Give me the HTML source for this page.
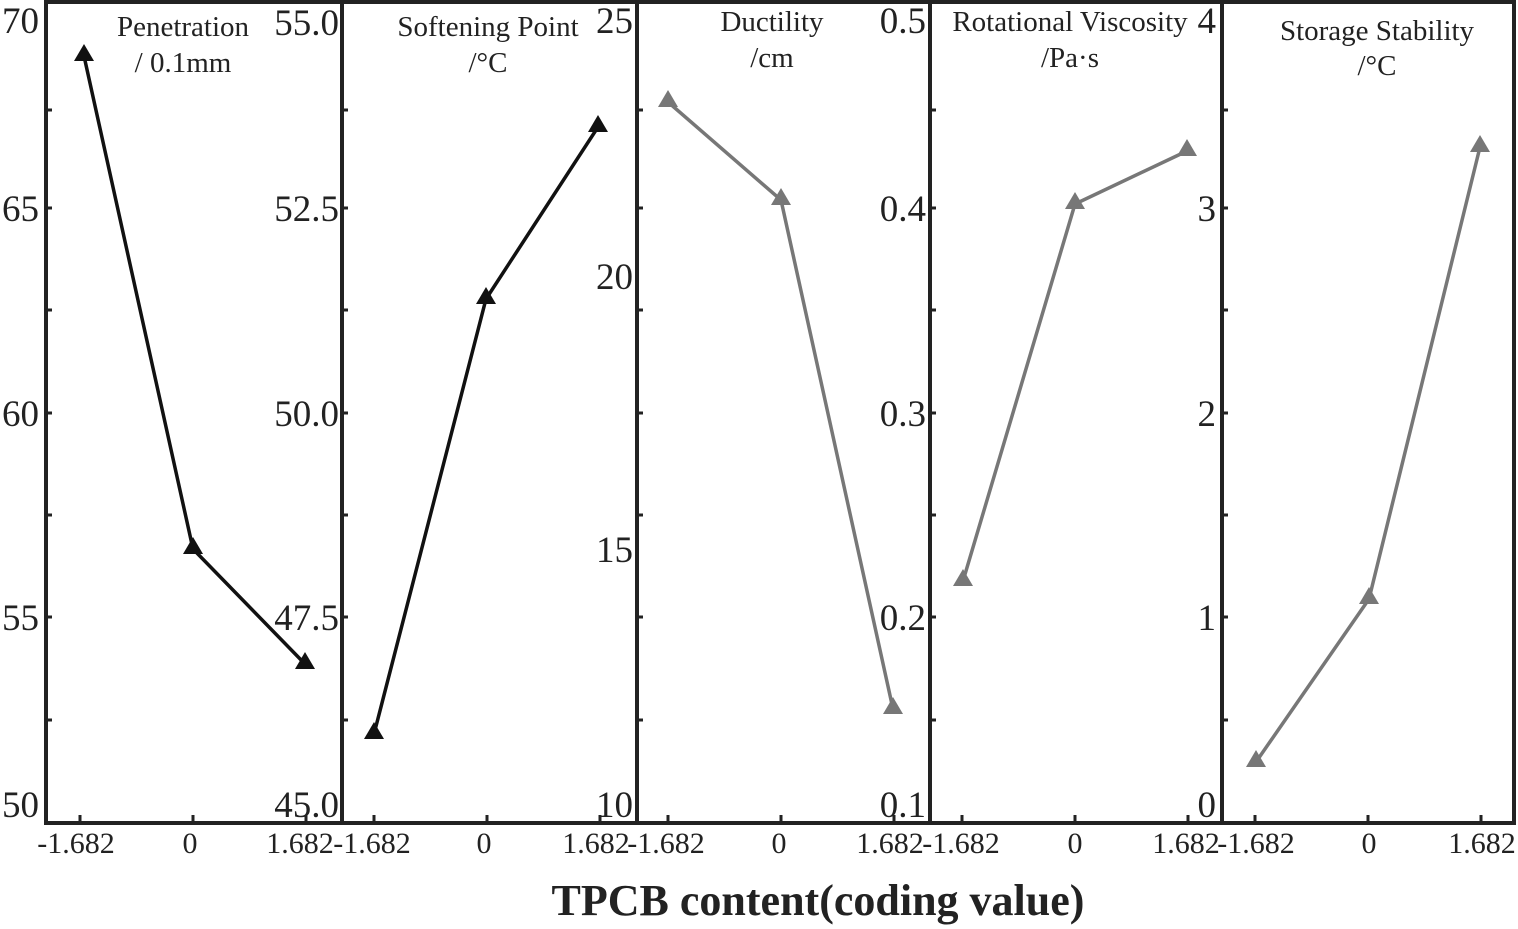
<!DOCTYPE html>
<html><head><meta charset="utf-8"><style>body{margin:0;background:#fff}svg{display:block}</style></head><body>
<svg width="1518" height="929" viewBox="0 0 1518 929" font-family="Liberation Serif, serif">
<rect width="1518" height="929" fill="#fff"/>
<g stroke="#222" stroke-width="4" fill="none">
<rect x="46" y="2" width="1468" height="821"/>
<line x1="342" y1="2" x2="342" y2="823"/>
<line x1="637" y1="2" x2="637" y2="823"/>
<line x1="930" y1="2" x2="930" y2="823"/>
<line x1="1222" y1="2" x2="1222" y2="823"/>
</g>
<g stroke="#222" stroke-width="3">
<line x1="80" y1="823" x2="80" y2="815"/><line x1="193" y1="823" x2="193" y2="815"/><line x1="306" y1="823" x2="306" y2="815"/>
<line x1="374" y1="823" x2="374" y2="815"/><line x1="487" y1="823" x2="487" y2="815"/><line x1="600" y1="823" x2="600" y2="815"/>
<line x1="668" y1="823" x2="668" y2="815"/><line x1="781" y1="823" x2="781" y2="815"/><line x1="894" y1="823" x2="894" y2="815"/>
<line x1="962" y1="823" x2="962" y2="815"/><line x1="1075" y1="823" x2="1075" y2="815"/><line x1="1188" y1="823" x2="1188" y2="815"/>
<line x1="1255" y1="823" x2="1255" y2="815"/><line x1="1368" y1="823" x2="1368" y2="815"/><line x1="1481" y1="823" x2="1481" y2="815"/>
</g>
<g stroke="#222" stroke-width="3">
<g id="yt">
<line x1="46" y1="110" x2="52" y2="110"/><line x1="46" y1="208" x2="52" y2="208"/><line x1="46" y1="310" x2="52" y2="310"/><line x1="46" y1="413" x2="52" y2="413"/><line x1="46" y1="515" x2="52" y2="515"/><line x1="46" y1="617" x2="52" y2="617"/><line x1="46" y1="720" x2="52" y2="720"/>
</g>
<use href="#yt" x="296"/><use href="#yt" x="591"/><use href="#yt" x="884"/><use href="#yt" x="1176"/>
</g>
<g font-size="30" fill="#222" text-anchor="middle">
<text x="76" y="853">-1.682</text><text x="190" y="853">0</text><text x="300" y="853">1.682</text>
<text x="372" y="853">-1.682</text><text x="484" y="853">0</text><text x="596" y="853">1.682</text>
<text x="666" y="853">-1.682</text><text x="779" y="853">0</text><text x="890" y="853">1.682</text>
<text x="961" y="853">-1.682</text><text x="1075" y="853">0</text><text x="1186" y="853">1.682</text>
<text x="1256" y="853">-1.682</text><text x="1369" y="853">0</text><text x="1482" y="853">1.682</text>
</g>
<g font-size="37" fill="#222" text-anchor="end">
<text x="39" y="33">70</text><text x="39" y="221">65</text><text x="39" y="426">60</text><text x="39" y="630">55</text><text x="39" y="817">50</text>
<text x="339" y="35">55.0</text><text x="339" y="221">52.5</text><text x="339" y="426">50.0</text><text x="339" y="630">47.5</text><text x="339" y="817">45.0</text>
<text x="633" y="33">25</text><text x="633" y="289">20</text><text x="633" y="562">15</text><text x="633" y="817">10</text>
<text x="926" y="33">0.5</text><text x="926" y="221">0.4</text><text x="926" y="426">0.3</text><text x="926" y="630">0.2</text><text x="926" y="817">0.1</text>
<text x="1216" y="33">4</text><text x="1216" y="221">3</text><text x="1216" y="426">2</text><text x="1216" y="630">1</text><text x="1216" y="817">0</text>
</g>
<g font-size="29" fill="#222" text-anchor="middle">
<text x="183" y="36">Penetration</text><text x="183" y="72">/ 0.1mm</text>
<text x="488" y="36">Softening Point</text><text x="488" y="72">/°C</text>
<text x="772" y="31">Ductility</text><text x="772" y="67">/cm</text>
<text x="1070" y="31">Rotational Viscosity</text><text x="1070" y="67">/Pa·s</text>
<text x="1377" y="40">Storage Stability</text><text x="1377" y="75">/°C</text>
</g>
<g fill="none" stroke-width="3.5">
<polyline stroke="#111" points="84,56 193,549 305,664"/>
<polyline stroke="#111" points="374,734 486,299 598,127"/>
<polyline stroke="#777" points="668,102 781,200 893,709"/>
<polyline stroke="#777" points="963,581 1075,204 1187,151"/>
<polyline stroke="#777" points="1256,762 1369,599 1480,147"/>
</g>
<g fill="#111">
<polygon points="84,44 74,61 94,61"/><polygon points="193,537 183,554 203,554"/><polygon points="305,652 295,669 315,669"/>
<polygon points="374,722 364,739 384,739"/><polygon points="486,287 476,304 496,304"/><polygon points="598,115 588,132 608,132"/>
</g>
<g fill="#777">
<polygon points="668,90 658,107 678,107"/><polygon points="781,188 771,205 791,205"/><polygon points="893,697 883,714 903,714"/>
<polygon points="963,569 953,586 973,586"/><polygon points="1075,192 1065,209 1085,209"/><polygon points="1187,139 1177,156 1197,156"/>
<polygon points="1256,750 1246,767 1266,767"/><polygon points="1369,587 1359,604 1379,604"/><polygon points="1480,135 1470,152 1490,152"/>
</g>
<text x="818" y="915" font-size="44" font-weight="bold" text-anchor="middle" fill="#222">TPCB content(coding value)</text>
</svg>
</body></html>
